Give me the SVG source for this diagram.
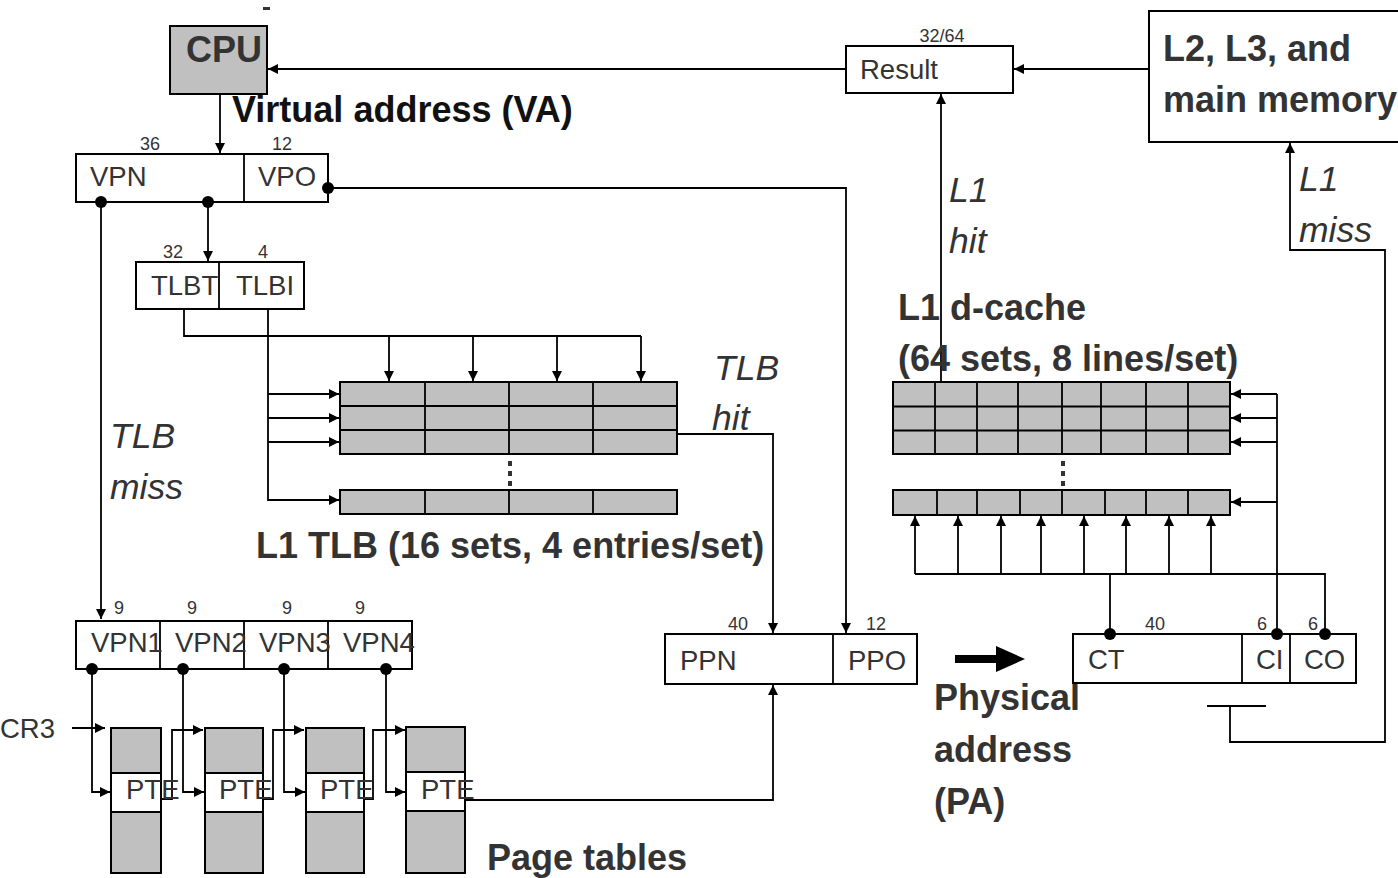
<svg xmlns="http://www.w3.org/2000/svg" width="1398" height="878" viewBox="0 0 1398 878">
<defs>
<marker id="ah" viewBox="0 0 10 10" refX="10" refY="5" markerWidth="11" markerHeight="10" markerUnits="userSpaceOnUse" orient="auto"><path d="M0,0 L10,5 L0,10 z" fill="#000"/></marker>
<style>
.box{fill:#fff;stroke:#000;stroke-width:2}
.gbox{fill:#c0c0c0;stroke:#000;stroke-width:2}
.ln{fill:none;stroke:#000;stroke-width:1.8}
.conn{fill:none;stroke:#000;stroke-width:1.8}
.arr{marker-end:url(#ah)}
.dot{fill:#000}
.t{font-family:"Liberation Sans",Arial,sans-serif;fill:#333;font-size:27.5px}
.n{font-family:"Liberation Sans",Arial,sans-serif;fill:#333;font-size:18px;text-anchor:middle}
.b{font-family:"Liberation Sans",Arial,sans-serif;fill:#333;font-size:36px;font-weight:bold}
.i{font-family:"Liberation Sans",Arial,sans-serif;fill:#333;font-size:35.5px;font-style:italic}
</style>
</defs>
<rect width="1398" height="878" fill="#fff"/>

<g id="connectors">
<path class="conn arr" d="M846,69 H268"/>
<path class="conn arr" d="M1149,69 H1014"/>
<path class="conn arr" d="M220,94 V153"/>
<path class="conn arr" d="M328,188 H846 V633"/>
<path class="conn arr" d="M208,202 V261"/>
<path class="conn arr" d="M101,202 V619"/>
<path class="conn" d="M184,309 V336 H641"/>
<path class="conn arr" d="M389,336 V381"/>
<path class="conn arr" d="M473,336 V381"/>
<path class="conn arr" d="M557,336 V381"/>
<path class="conn arr" d="M641,336 V381"/>
<path class="conn arr" d="M268,309 V500 H339"/>
<path class="conn arr" d="M268,394 H339"/>
<path class="conn arr" d="M268,418 H339"/>
<path class="conn arr" d="M268,442 H339"/>
<path class="conn arr" d="M677,434 H773 V633"/>
<path class="conn arr" d="M465,800 H773 V685"/>
<path class="conn arr" d="M92,669 V792 H110"/>
<path class="conn arr" d="M183,669 V792 H204"/>
<path class="conn arr" d="M284,669 V792 H305"/>
<path class="conn arr" d="M386,669 V792 H405"/>
<path class="conn arr" d="M72,728 H105"/>
<path class="conn arr" d="M161,799 H172 V730 H203"/>
<path class="conn arr" d="M263,799 H273 V730 H304"/>
<path class="conn arr" d="M364,799 H373 V730 H405"/>
<path class="conn arr" d="M941,382 V94"/>
<path class="conn" d="M1277,634 V394"/>
<path class="conn arr" d="M1277,394 H1231"/>
<path class="conn arr" d="M1277,418 H1231"/>
<path class="conn arr" d="M1277,442 H1231"/>
<path class="conn arr" d="M1277,502 H1231"/>
<path class="conn" d="M1110,634 V574"/>
<path class="conn" d="M1325,634 V574 H915"/>
<path class="conn arr" d="M915,574 V516"/>
<path class="conn arr" d="M958,574 V516"/>
<path class="conn arr" d="M1001,574 V516"/>
<path class="conn arr" d="M1041,574 V516"/>
<path class="conn arr" d="M1084,574 V516"/>
<path class="conn arr" d="M1126,574 V516"/>
<path class="conn arr" d="M1169,574 V516"/>
<path class="conn arr" d="M1211,574 V516"/>
<path class="conn" d="M1207,706 H1266"/>
<path class="conn arr" d="M1230,706 V742 H1385 V250 H1290 V143"/>
<polygon points="955,655 996,655 996,646 1025,659 996,672 996,663 955,663" fill="#000"/>
</g>

<g id="cpu">
<rect class="gbox" x="170" y="26" width="97" height="68"/>
<text class="b" x="224" y="62" text-anchor="middle">CPU</text>
<rect x="263" y="7" width="7" height="3" fill="#333"/>
</g>
<text x="232" y="122" font-family="Liberation Sans, Arial, sans-serif" font-size="36" font-weight="bold" fill="#111">Virtual address (VA)</text>

<g id="va">
<rect class="box" x="76" y="154" width="252" height="48"/>
<line class="ln" x1="244" y1="154" x2="244" y2="202"/>
<text class="n" x="150" y="150">36</text>
<text class="n" x="282" y="150">12</text>
<text class="t" x="90" y="186">VPN</text>
<text class="t" x="258" y="186">VPO</text>
<circle class="dot" cx="101" cy="202" r="6"/>
<circle class="dot" cx="208" cy="202" r="6"/>
<circle class="dot" cx="328" cy="188" r="6"/>
</g>

<g id="tlbaddr">
<rect class="box" x="136" y="262" width="168" height="47"/>
<line class="ln" x1="219" y1="262" x2="219" y2="309"/>
<text class="n" x="173" y="258">32</text>
<text class="n" x="263" y="258">4</text>
<text class="t" x="151" y="295">TLBT</text>
<text class="t" x="236" y="295">TLBI</text>
</g>

<g id="tlb">
<rect class="gbox" x="340" y="382" width="337" height="72"/>
<path class="ln" d="M340,406 H677 M340,430 H677 M425,382 V454 M509,382 V454 M593,382 V454"/>
<rect class="gbox" x="340" y="490" width="337" height="24"/>
<path class="ln" d="M425,490 V514 M509,490 V514 M593,490 V514"/>
<rect x="508" y="461" width="4" height="5" fill="#333"/>
<rect x="508" y="471" width="4" height="5" fill="#333"/>
<rect x="508" y="481" width="4" height="5" fill="#333"/>
<text class="b" x="256" y="558">L1 TLB (16 sets, 4 entries/set)</text>
<text class="i" x="714" y="380">TLB</text>
<text class="i" x="712" y="430">hit</text>
</g>
<text class="i" x="110" y="448">TLB</text>
<text class="i" x="110" y="499">miss</text>

<g id="vpns">
<rect class="box" x="76" y="621" width="336" height="48"/>
<path class="ln" d="M160,621 V669 M244,621 V669 M328,621 V669"/>
<text class="n" x="119" y="614">9</text>
<text class="n" x="192" y="614">9</text>
<text class="n" x="287" y="614">9</text>
<text class="n" x="360" y="614">9</text>
<text class="t" x="91" y="652">VPN1</text>
<text class="t" x="175" y="652">VPN2</text>
<text class="t" x="259" y="652">VPN3</text>
<text class="t" x="343" y="652">VPN4</text>
<circle class="dot" cx="92" cy="669" r="6"/>
<circle class="dot" cx="183" cy="669" r="6"/>
<circle class="dot" cx="284" cy="669" r="6"/>
<circle class="dot" cx="386" cy="669" r="6"/>
</g>
<text class="t" x="0" y="738">CR3</text>

<g id="pagetables">
<rect class="gbox" x="111" y="728" width="50" height="145"/>
<rect class="box" x="111" y="773" width="50" height="39"/>
<text class="t" x="126" y="799" font-size="23">PTE</text>
<rect class="gbox" x="205" y="728" width="58" height="145"/>
<rect class="box" x="205" y="773" width="58" height="39"/>
<text class="t" x="219" y="799" font-size="23">PTE</text>
<rect class="gbox" x="306" y="728" width="58" height="145"/>
<rect class="box" x="306" y="773" width="58" height="39"/>
<text class="t" x="320" y="799" font-size="23">PTE</text>
<rect class="gbox" x="406" y="727" width="59" height="146"/>
<rect class="box" x="406" y="772" width="59" height="39"/>
<text class="t" x="421" y="799" font-size="23">PTE</text>
<text class="b" x="487" y="870">Page tables</text>
</g>

<g id="pa">
<rect class="box" x="665" y="634" width="252" height="50"/>
<line class="ln" x1="833" y1="634" x2="833" y2="684"/>
<text class="n" x="738" y="630">40</text>
<text class="n" x="876" y="630">12</text>
<text class="t" x="680" y="670">PPN</text>
<text class="t" x="848" y="670">PPO</text>
<text class="b" x="934" y="710">Physical</text>
<text class="b" x="934" y="762">address</text>
<text class="b" x="934" y="814">(PA)</text>
</g>

<g id="cacheaddr">
<rect class="box" x="1073" y="634" width="283" height="49"/>
<path class="ln" d="M1242,634 V683 M1290,634 V683"/>
<text class="n" x="1155" y="630">40</text>
<text class="n" x="1262" y="630">6</text>
<text class="n" x="1313" y="630">6</text>
<text class="t" x="1088" y="669">CT</text>
<text class="t" x="1256" y="669">CI</text>
<text class="t" x="1304" y="669">CO</text>
<circle class="dot" cx="1110" cy="634" r="6"/>
<circle class="dot" cx="1277" cy="634" r="6"/>
<circle class="dot" cx="1325" cy="634" r="6"/>
</g>

<g id="dcache">
<rect class="gbox" x="893" y="382" width="337" height="72"/>
<path class="ln" d="M893,406.5 H1230 M893,430.5 H1230 M935,382 V454 M977,382 V454 M1018,382 V454 M1062,382 V454 M1101,382 V454 M1146,382 V454 M1188,382 V454"/>
<rect class="gbox" x="893" y="490" width="337" height="25"/>
<path class="ln" d="M937,490 V515 M977,490 V515 M1020,490 V515 M1062,490 V515 M1105,490 V515 M1146,490 V515 M1188,490 V515"/>
<rect x="1061" y="461" width="4" height="5" fill="#333"/>
<rect x="1061" y="471" width="4" height="5" fill="#333"/>
<rect x="1061" y="481" width="4" height="5" fill="#333"/>
<text class="b" x="898" y="320">L1 d-cache</text>
<text class="b" x="898" y="371">(64 sets, 8 lines/set)</text>
</g>
<text class="i" x="949" y="202">L1</text>
<text class="i" x="949" y="253">hit</text>

<g id="result">
<rect class="box" x="846" y="46" width="167" height="47"/>
<text class="t" x="860" y="79">Result</text>
<text class="n" x="942" y="42">32/64</text>
</g>

<g id="memory">
<rect class="box" x="1149" y="11" width="260" height="131"/>
<text class="b" x="1163" y="61">L2, L3, and</text>
<text class="b" x="1163" y="112">main memory</text>
</g>
<text class="i" x="1299" y="191">L1</text>
<text class="i" x="1299" y="242">miss</text>
</svg>
